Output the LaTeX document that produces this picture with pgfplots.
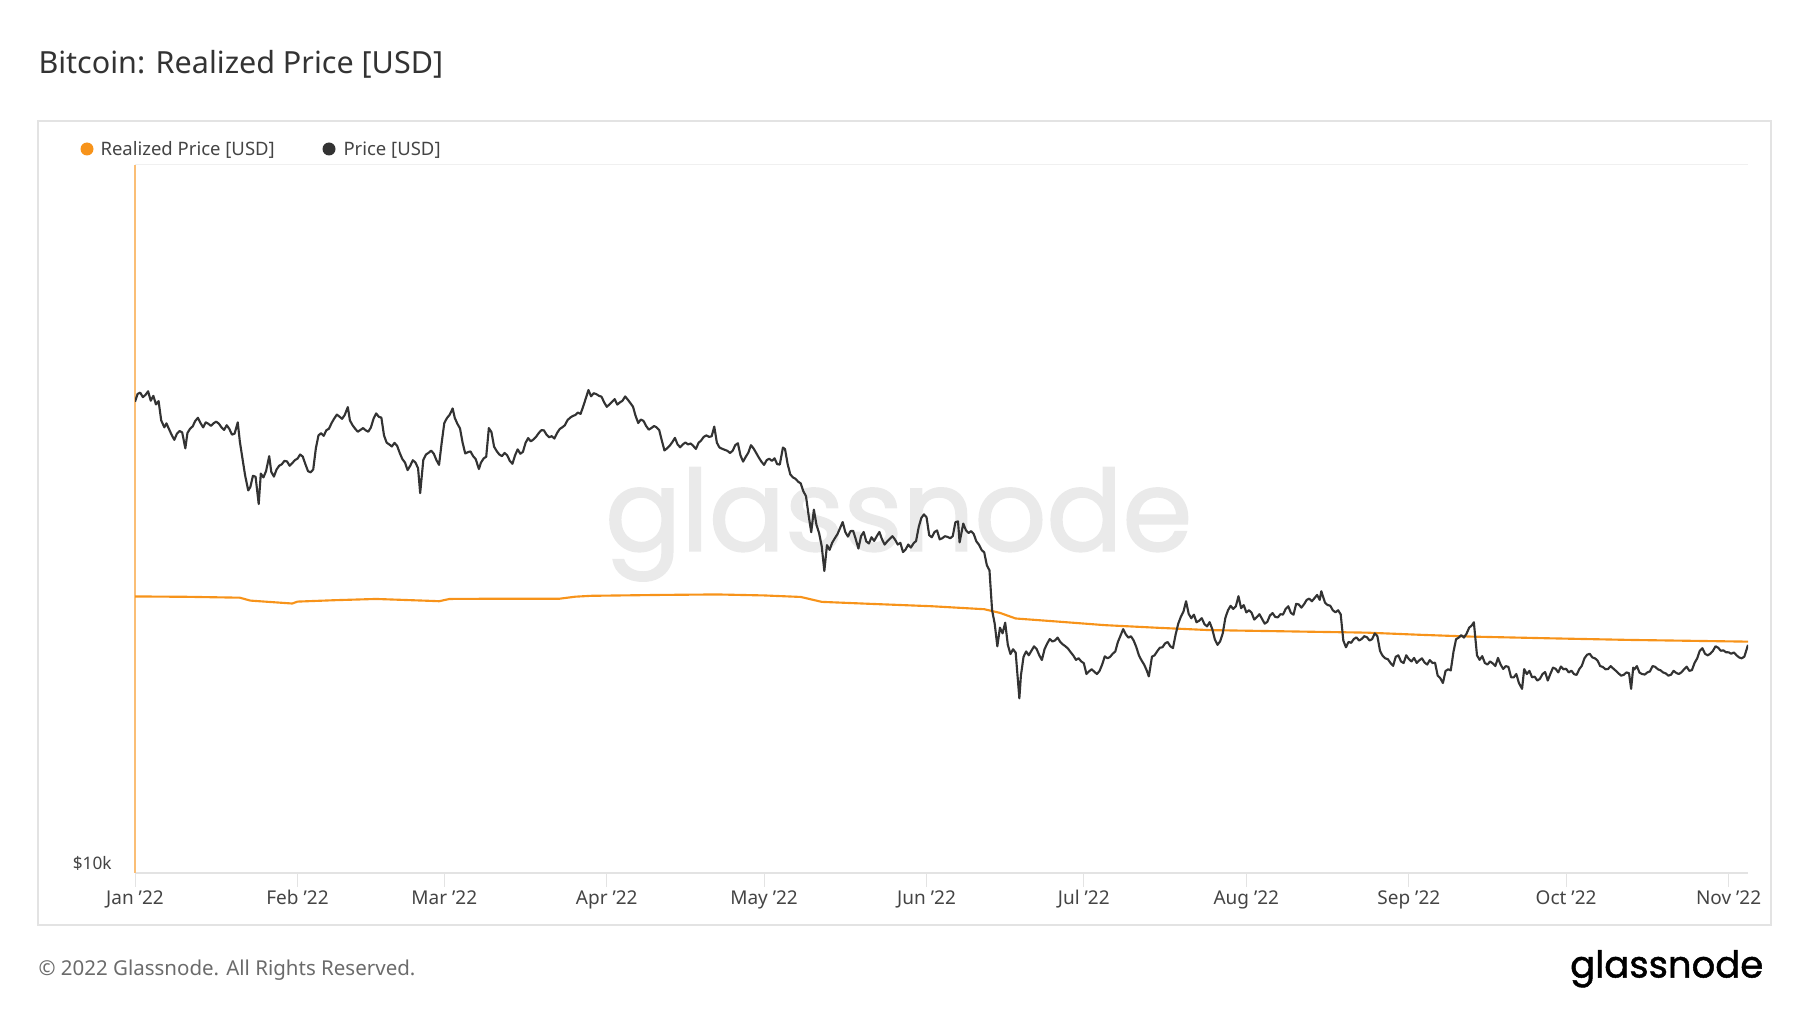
\documentclass[border=0pt]{standalone}
\usepackage{fontspec}
\setmainfont{Noto Sans}
\newfontfamily\logofont{Poppins}[FakeBold=1.3]
\newfontfamily\wmfont{Poppins}[FakeBold=1.6]
\usepackage{pgfplots}
\usepackage{pgfplotstable}
\pgfplotsset{compat=1.18}
\definecolor{btcorange}{HTML}{F7931A}
\definecolor{pricegray}{HTML}{333333}
\definecolor{titlecol}{HTML}{333333}
\definecolor{tickcol}{HTML}{444444}
\definecolor{footcol}{HTML}{6B6B6B}
\definecolor{boxcol}{HTML}{E3E3E3}
\definecolor{wmcol}{HTML}{EAEAEA}

\pgfplotstableread{
x y
0 24580
10 24550
20 24480
22 24250
30 24020
31 24170
38 24280
46 24380
57 24220
58 24200
60 24380
70 24400
81 24400
84 24560
87 24630
100 24700
111 24740
120 24660
127 24540
131 24150
140 24000
152 23810
162 23580
165 23300
168 22880
175 22680
185 22390
195 22200
205 22030
220 21940
235 21850
245 21700
255 21570
270 21450
285 21340
300 21260
307.7 21220
}\realized

\pgfplotstableread{
x y
0 46306
0.5 47500
1 47686
1.5 47000
2 47345
2.5 47900
3 46458
3.5 47200
4 45897
4.5 46400
5 43569
5.6 42600
6 43160
6.4 42500
7 41558
7.5 40900
8 41734
8.5 42100
9 41912
9.6 39800
10 41822
10.5 42400
11 42736
11.5 43500
12 43949
12.5 43200
13 42591
13.5 43300
14 43099
14.5 42800
15 43177
15.5 43400
16 43113
16.5 42600
17 42250
17.5 42900
18 42375
18.5 41600
19 41744
19.6 43300
20 40681
20.5 38500
21 36458
21.6 34700
22 35075
22.5 36400
23 36276
23.6 33200
24 36654
24.5 36200
25 36954
25.6 38800
26 36852
26.5 36300
27 37138
27.5 37600
28 37784
28.5 38200
29 38138
29.5 37600
30 37917
30.5 38300
31 38483
31.5 39000
32 38743
32.5 37800
33 36952
33.5 36800
34 37154
34.5 39800
35 41500
35.5 41800
36 41441
36.5 42200
37 42412
37.5 43200
38 43840
38.5 44400
39 44118
39.5 43800
40 44338
40.6 45500
41 43565
41.5 42900
42 42407
42.5 42000
43 42244
43.5 42500
44 42197
44.5 42000
45 42586
45.5 43800
46 44575
46.5 44100
47 43961
47.5 41500
48 40538
48.5 40300
49 40030
49.5 40500
50 40122
50.5 39200
51 38431
51.5 38000
52 37075
52.5 37600
53 38286
53.5 38000
54 37296
54.4 34400
55 38332
55.5 39000
56 39214
56.5 39500
57 39105
57.5 38300
58 37710
58.5 40500
59 43194
59.5 43900
60 44354
60.6 45300
61 43924
61.5 43100
62 42452
62.5 40500
63 39137
63.5 39300
64 39400
64.5 38800
65 38420
65.6 37200
66 37988
66.5 38500
67 38730
67.5 42500
68 41942
68.5 40000
69 39439
69.5 39000
70 38794
70.5 39200
71 38904
71.5 38200
72 37849
72.5 38900
73 39666
73.5 39100
74 39338
74.5 40500
75 41143
75.5 40700
76 40951
76.5 41300
77 41801
77.5 42200
78 42190
78.5 41600
79 41247
79.5 41400
80 41077
80.5 41800
81 42358
81.5 42600
82 42892
82.5 43600
83 43960
83.5 44200
84 44348
84.5 44700
85 44500
85.5 45600
86 46820
86.5 48100
87 47128
87.5 47600
88 47465
88.5 47200
89 47062
89.5 46200
90 45538
90.5 45900
91 46281
91.5 46700
92 45868
92.5 46200
93 46453
93.5 47100
94 46622
94.5 46100
95 45555
95.5 44200
96 43206
96.5 43700
97 43503
97.5 42800
98 42287
98.5 42500
99 42782
99.5 42600
100 42207
100.5 40800
101 39521
101.5 39800
102 40127
102.5 40600
103 41166
103.5 40300
104 39936
104.5 40300
105 40553
105.5 40300
106 40424
106.5 40100
107 39716
107.5 40500
108 40826
108.5 41300
109 41502
109.5 41300
110 41374
110.5 42700
111 40527
111.5 39900
112 39740
112.5 39600
113 39478
113.5 39200
114 39469
114.5 40200
115 40458
115.5 38900
116 38117
116.5 38700
117 39241
117.5 40200
118 39773
118.5 39200
119 38609
119.5 38100
120 37714
120.5 38300
121 38469
121.5 38200
122 38529
122.5 37800
123 37750
123.6 39900
124 39698
124.5 37800
125 36575
125.5 36200
126 36040
126.5 35700
127 35501
127.5 34600
128 34059
128.5 32000
129 30296
129.5 32600
130 31022
130.5 30200
131 28936
131.5 26700
132 29047
132.5 28600
133 29283
133.5 29700
134 30102
134.5 30700
135 31305
135.5 30300
136 29862
136.5 30400
137 30425
137.5 29600
138 28720
138.5 29900
139 30314
139.5 29400
140 29201
140.5 29800
141 29445
141.5 29900
142 30318
142.5 29600
143 29099
143.5 29400
144 29655
144.5 29900
145 29562
145.5 29100
146 29267
146.5 28400
147 28627
147.5 29100
148 28814
148.5 29200
149 29445
149.5 30800
150 31726
150.5 32100
151 31792
151.5 30000
152 29799
152.5 30300
153 30467
153.5 29600
154 29704
154.5 29900
155 29832
155.5 29700
156 29906
156.5 31300
157 31370
157.3 29300
158 31155
158.5 30500
159 30214
159.5 30400
160 30112
160.5 29400
161 29083
161.5 28600
162 28360
162.5 27200
163 26762
163.5 23500
164 22487
164.5 20900
165 22206
165.5 21800
166 22572
166.5 21000
167 20381
167.5 20700
168 20472
168.7 17650
169 19017
169.5 20200
170 20553
170.5 20300
171 20599
171.5 20900
172 20710
172.5 20300
173 19988
173.5 20700
174 21085
174.5 21400
175 21232
175.5 21300
176 21502
176.5 21200
177 21028
177.5 20900
178 20735
178.5 20500
179 20280
179.5 20000
180 20105
180.5 19900
181 19785
181.5 19100
182 19269
182.5 19400
183 19243
183.5 19100
184 19297
184.5 19700
185 20231
185.5 20100
186 20191
186.5 20400
187 20549
187.5 21200
188 21638
188.5 22100
189 21731
189.5 21500
190 21592
190.5 21300
191 20860
191.5 20300
192 19970
192.5 19700
193 19323
193.4 18950
194 20212
194.5 20300
195 20569
195.5 20800
196 20837
196.5 21100
197 21191
197.5 20900
198 20779
198.5 21700
199 22485
199.5 23000
200 23390
200.5 24200
201 23231
201.5 22900
202 23164
202.5 22600
203 22714
203.5 22900
204 22466
204.5 22300
205 22609
205.5 22100
206 21361
206.5 21000
207 21240
207.5 21800
208 22931
208.5 23500
209 23843
209.5 23600
210 23805
210.5 24600
211 23656
211.5 23900
212 23336
212.5 23500
213 23314
213.5 22800
214 22978
214.5 23200
215 22846
215.5 22500
216 22630
216.5 23100
217 23289
217.5 23000
218 22961
218.5 23200
219 23175
219.5 23600
220 23810
220.5 23300
221 23164
221.5 24000
222 23947
222.5 23700
223 23957
223.5 24300
224 24403
224.5 24200
225 24442
225.5 24700
226 24305
226.3 25000
227 24094
227.5 23900
228 23854
228.5 23500
229 23342
229.5 23500
230 23191
230.5 21300
231 20834
231.5 21200
232 21140
232.5 21400
233 21516
233.5 21300
234 21399
234.5 21600
235 21528
235.5 21300
236 21395
236.5 21800
237 21600
237.5 20600
238 20260
238.5 20100
239 20041
239.5 19800
240 19616
240.5 20200
241 20297
241.5 19900
242 19796
242.5 20300
243 20050
243.5 19900
244 20127
244.5 19800
245 19969
245.5 20100
246 19832
246.5 19700
247 19986
247.5 19800
248 19812
248.5 19000
249 18837
249.5 18550
250 19290
250.5 19400
251 19329
251.5 20500
252 21381
252.5 21500
253 21680
253.5 21500
254 21769
254.5 22200
255 22371
255.4 22600
256 20296
256.5 20000
257 20241
257.5 19800
258 19701
258.5 19900
259 19772
259.5 19600
260 20127
260.5 19700
261 19419
261.5 19600
262 19544
262.5 18900
263 18891
263.5 19100
264 18547
264.6 18200
265 19413
265.5 19100
266 19297
266.5 18900
267 18937
267.5 18700
268 18802
268.5 19100
269 19222
269.5 18700
270 19110
270.5 19500
271 19426
271.5 19200
272 19573
272.5 19400
273 19431
273.5 19200
274 19312
274.5 19100
275 19044
275.5 19400
276 19623
276.5 20100
277 20336
277.5 20400
278 20160
278.5 20100
279 19955
279.5 19600
280 19546
280.5 19400
281 19416
281.5 19600
282 19446
282.5 19300
283 19141
283.5 19000
284 19051
284.5 19200
285 19157
285.4 18200
285.8 19500
286 19382
286.5 19600
287 19185
287.5 19100
288 19068
288.5 19200
289 19268
289.5 19600
290 19550
290.5 19400
291 19334
291.5 19200
292 19139
292.5 19000
293 19053
293.5 19300
294 19172
294.5 19100
295 19208
295.5 19400
296 19567
296.5 19300
297 19345
297.5 19800
298 20095
298.5 20600
299 20771
299.5 20400
300 20295
300.5 20400
301 20591
301.5 20900
302 20809
302.5 20600
303 20627
303.5 20500
304 20495
304.5 20400
305 20485
305.5 20300
306 20159
306.5 20100
307 20209
307.7 21000
}\price

\begin{document}
\begin{tikzpicture}
\path[use as bounding box] (0,0) rectangle (720pt,405.2pt);
% title
\node[anchor=base west, inner sep=0, font=\fontsize{12.2pt}{14pt}\selectfont, text=titlecol] at (15.2pt,375.6pt) {Bitcoin: Realized Price [USD]};
% panel
\draw[boxcol, line width=0.5pt] (15.2pt,35.2pt) rectangle (708.4pt,356.8pt);
% watermark
\node[inner sep=0, font=\wmfont\fontsize{45pt}{45pt}\selectfont, text=wmcol] at (359.5pt,195.5pt) {glassnode};
% legend
\fill[btcorange] (34.8pt,345.6pt) circle (2.6pt);
\node[anchor=base west, inner sep=0, font=\fontsize{7.4pt}{9pt}\selectfont, text=tickcol] at (40pt,343pt) {Realized Price [USD]};
\fill[pricegray] (131.6pt,345.6pt) circle (2.6pt);
\node[anchor=base west, inner sep=0, font=\fontsize{7.4pt}{9pt}\selectfont, text=tickcol] at (137.2pt,343pt) {Price [USD]};

\begin{axis}[
  at={(54pt,56pt)}, anchor=south west,
  scale only axis, width=645.2pt, height=283.2pt,
  xmin=0, xmax=307.7,
  ymode=log, ymin=10000, ymax=100000,
  axis x line*=bottom, axis y line*=left,
  x axis line style={draw=boxcol, line width=0.6pt},
  y axis line style={draw=btcorange!60, line width=0.5pt},
  xtick={0,31,59,90,120,151,181,212,243,273,304},
  xticklabels={Jan '22,Feb '22,Mar '22,Apr '22,May '22,Jun '22,Jul '22,Aug '22,Sep '22,Oct '22,Nov '22},
  xtick align=outside,
  xtick style={draw=boxcol, line width=0.4pt},
  major tick length=5.6pt,
  ytick={10000,100000}, yticklabels={\$10k,{}},
  ytick style={draw=none},
  ymajorgrids, y grid style={draw=gray!12, line width=0.4pt},
  xticklabel style={font=\fontsize{7.6pt}{9pt}\selectfont, text=tickcol, anchor=base, yshift=-7pt},
  yticklabel style={font=\fontsize{6.9pt}{9pt}\selectfont, text=tickcol, anchor=base east, yshift=1.2pt, xshift=-5.8pt},
]
\addplot[btcorange, line width=0.85pt] table[x=x,y=y] {\realized};
\addplot[pricegray, line width=0.85pt, line join=round] table[x=x,y=y] {\price};
\end{axis}

% footer
\node[anchor=base west, inner sep=0, font=\fontsize{8.2pt}{10pt}\selectfont, text=footcol] at (15.2pt,15pt) {© 2022 Glassnode. All Rights Reserved.};
\node[anchor=base east, inner sep=0, font=\logofont\fontsize{14.8pt}{15pt}\selectfont, text=black] at (705.5pt,14.2pt) {glassnode};
\end{tikzpicture}
\end{document}
